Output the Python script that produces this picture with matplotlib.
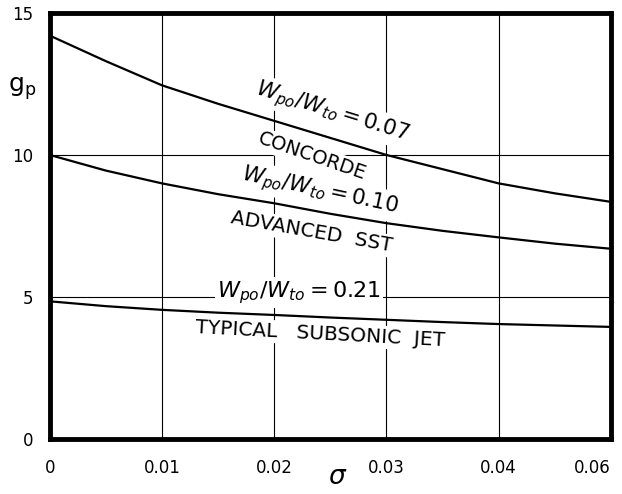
import matplotlib
matplotlib.use("Agg")
import matplotlib.pyplot as plt

# sigma values (every 0.005)
sigma = [0, 0.005, 0.01, 0.015, 0.02, 0.025, 0.03, 0.035, 0.04, 0.045, 0.05]

# g_p curves
gp_concorde = [14.2, 13.3, 12.45, 11.8, 11.2, 10.6, 10.0, 9.5, 9.0, 8.65, 8.35]
gp_sst = [10.0, 9.45, 9.0, 8.62, 8.3, 7.93, 7.6, 7.33, 7.1, 6.88, 6.7]
gp_subsonic = [4.85, 4.68, 4.55, 4.45, 4.37, 4.28, 4.2, 4.12, 4.05, 4.0, 3.95]

x_ticks = [0, 0.01, 0.02, 0.03, 0.04, 0.05]
x_labels = ["0", "0.01", "0.02", "0.03", "0.04", "0.06"]  # as printed on the original
y_ticks = [0, 5, 10, 15]
y_labels = ["0", "5", "10", "15"]

plt.rcParams["font.family"] = ["DejaVu Sans"]

fig = plt.figure(figsize=(6.22, 4.94), dpi=100)
ax = fig.add_axes([0.080, 0.111, 0.902, 0.863])

# grid lines
for xv in x_ticks[1:-1]:
    ax.axvline(xv, color="black", lw=0.8, zorder=1)
for yv in [5, 10]:
    ax.axhline(yv, color="black", lw=0.8, zorder=1)

for gp in (gp_concorde, gp_sst, gp_subsonic):
    ax.plot(sigma, gp, color="black", lw=1.6, zorder=5)

box = dict(facecolor="white", edgecolor="none", pad=1.5)
lbl = dict(ha="center", va="center", zorder=4, bbox=box, rotation_mode="anchor")

ax.text(0.0252, 11.5, r"$W_{po}/W_{to} = 0.07$", fontsize=15.5, rotation=-17, **lbl)
ax.text(0.0234, 9.95, "CONCORDE", fontsize=14, rotation=-19, **lbl)
ax.text(0.0241, 8.72, r"$W_{po}/W_{to} = 0.10$", fontsize=15.5, rotation=-12, **lbl)
ax.text(0.0233, 7.28, "ADVANCED  SST", fontsize=14.5, rotation=-10, **lbl)
ax.text(0.0222, 5.15, r"$W_{po}/W_{to} = 0.21$", fontsize=16, rotation=0, **lbl)
ax.text(0.0241, 3.7, "TYPICAL   SUBSONIC  JET", fontsize=14.5, rotation=-3, **lbl)

ax.set_xlim(0, 0.0495)
ax.set_ylim(0, 14.9)
ax.set_xticks(x_ticks)
ax.set_xticklabels(x_labels, fontsize=12)
ax.set_yticks(y_ticks)
ax.set_yticklabels(y_labels, fontsize=12)
ax.get_xticklabels()[-1].set_ha("right")
ax.tick_params(length=0, pad=14)
ax.tick_params(axis="y", pad=12)

for s in ax.spines.values():
    s.set_linewidth(3.5)

fig.text(0.035, 0.82, r"$\mathregular{g_p}$", fontsize=18, ha="center", va="center")
fig.text(0.543, 0.034, r"$\sigma$", fontsize=19, ha="center", va="center")

fig.savefig("out.png", dpi=100)
